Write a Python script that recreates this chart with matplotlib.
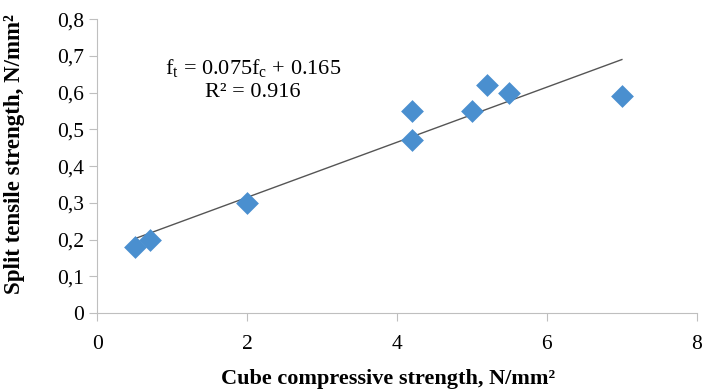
import matplotlib.pyplot as plt
import numpy as np
from matplotlib.ticker import FuncFormatter

# cube compressive vs split tensile strength
fc = [0.5, 0.7, 2.0, 4.2, 4.2, 5.0, 5.2, 5.5, 7.0]
ft = [0.18, 0.20, 0.30, 0.55, 0.47, 0.55, 0.62, 0.60, 0.59]

# linear fit ft = a*fc + b
slope = 0.075
intercept = 0.165
r2 = 0.916

plt.rcParams['font.family'] = ['Liberation Serif', 'DejaVu Serif']

fig = plt.figure(figsize=(7.14, 3.9), dpi=100)
ax = fig.add_axes([0.136, 0.197, 0.840, 0.754])

ax.scatter(fc, ft, marker='D', s=135, color='#4A8FCF', zorder=3, linewidths=0)

xs = np.array([min(fc), max(fc)])
ax.plot(xs, slope * xs + intercept, color='#555555', lw=1.0, zorder=2)

ax.text(2.08, 0.665, r'f$_\mathregular{t}$ = %.3ff$_\mathregular{c}$ + %.3f' % (slope, intercept),
        ha='center', va='center', fontsize=16)
ax.text(2.08, 0.6, 'R² = %.3f' % r2, ha='center', va='center', fontsize=16)

ax.set_xlim(0, 8)
ax.set_ylim(0, 0.8)
ax.set_xticks([0, 2, 4, 6, 8])
ax.set_yticks(np.arange(0, 0.81, 0.1))
ax.yaxis.set_major_formatter(FuncFormatter(
    lambda v, p: '0' if abs(v) < 1e-9 else f'{v:.1f}'.replace('.', ',')))

for s in ['top', 'right']:
    ax.spines[s].set_visible(False)
for s in ['left', 'bottom']:
    ax.spines[s].set_color('#BFBFBF')
ax.tick_params(colors='#BFBFBF', length=6, labelsize=15.5, labelcolor='black')
ax.tick_params(axis='x', pad=10)

ax.set_xlabel('Cube compressive strength, N/mm²', fontsize=16,
              fontweight='bold', labelpad=11)
ax.xaxis.set_label_coords(0.485, -0.19)
ax.set_ylabel('Split tensile strength, N/mm²', fontsize=16.5,
              fontweight='bold')
ax.yaxis.set_label_coords(-0.12, 0.54)

fig.savefig('out.png', dpi=100)
